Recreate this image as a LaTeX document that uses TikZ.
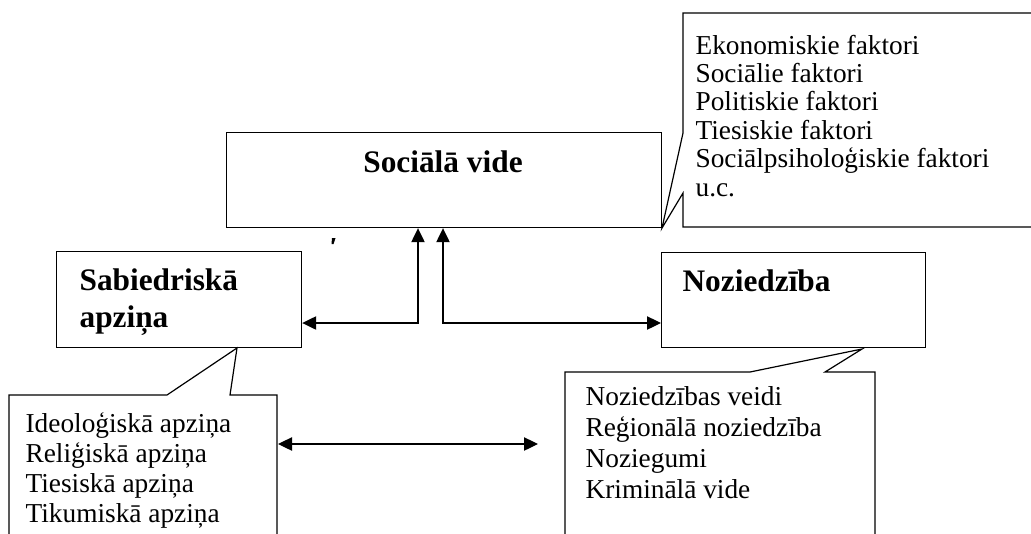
\documentclass[tikz,border=0pt]{standalone}
\usepackage{fontspec}
\setmainfont{Liberation Serif}
\usetikzlibrary{arrows.meta}
\begin{document}
\begin{tikzpicture}[x=0.75pt,y=-0.75pt,line width=0.9pt,
  boxnode/.style={draw,rectangle,anchor=north west,inner sep=0pt},
  hdr/.style={font=\fontsize{23.5}{27}\selectfont\bfseries,inner sep=0pt,anchor=base west},
  lst/.style={font=\fontsize{20.5}{21}\selectfont,inner sep=0pt,anchor=base west},
  darr/.style={{Triangle[length=10.5pt,width=10pt]}-{Triangle[length=10.5pt,width=10pt]}}]
\useasboundingbox (0,0) rectangle (1031,533);
\clip (0,0) rectangle (1031,533);
% main boxes
\node[boxnode,minimum width=326.25pt,minimum height=71.25pt] (soc) at (226,132) {};
\node[boxnode,minimum width=183.75pt,minimum height=72pt] (sab) at (56,251) {};
\node[boxnode,minimum width=198pt,minimum height=71.25pt] (noz) at (661,252) {};
% headings
\node[hdr,anchor=base] (soct) at (443,172.7) {Sociālā vide};
\node[hdr] (sabt1) at (79,290.7) {Sabiedriskā};
\node[hdr] (sabt2) at (79,327) {apziņa};
\node[hdr] (nozt) at (682,291.7) {Noziedzība};
% callouts
\draw (683,133) -- (683,13) -- (1040,13) -- (1040,227) -- (683,227) -- (683,193) -- (662,228) -- cycle;
\draw (9,545) -- (9,395) -- (167,395) -- (237,348) -- (230,395) -- (277,395) -- (277,545);
\draw (565,545) -- (565,372) -- (750,372) -- (862,349) -- (825,372) -- (875,372) -- (875,545);
% callout texts
\foreach \t [count=\i] in {Ekonomiskie faktori,Sociālie faktori,Politiskie faktori,Tiesiskie faktori,Sociālpsiholoģiskie faktori,u.c.}
  \node[lst,name=tr\i] at (695,{54+28.4*(\i-1)}) {\t};
\foreach \t [count=\i] in {Ideoloģiskā apziņa,Reliģiskā apziņa,Tiesiskā apziņa,Tikumiskā apziņa}
  \node[lst,name=bl\i] at (25,{432+30.2*(\i-1)}) {\t};
\foreach \t [count=\i] in {Noziedzības veidi,Reģionālā noziedzība,Noziegumi,Kriminālā vide}
  \node[lst,name=br\i] at (585,{405+31*(\i-1)}) {\t};
% connectors
\coordinate (j1) at (418,323);
\coordinate (j2) at (443,323);
\draw[darr] (sab.east |- j1) -- (j1) -- (j1 |- soc.south);
\draw[darr] (j2 |- soc.south) -- (j2) -- (noz.west |- j2);
\coordinate (ba) at (278,444);
\coordinate (bb) at (538,444);
\draw[darr] (ba) -- (bb);
% stray mark
\fill (332,238) -- (335.5,238) -- (333.5,244) -- (331.5,244) -- cycle;
\end{tikzpicture}
\end{document}
